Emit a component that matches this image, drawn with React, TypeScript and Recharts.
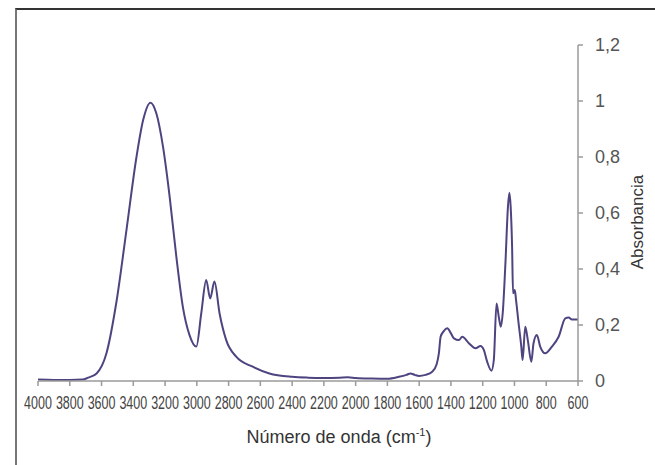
import React from 'react';
import { LineChart, Line, XAxis, YAxis, Label } from 'recharts';

// wavenumber (cm-1) and absorbance
const wavenumbers = [
  4000, 3900, 3800, 3720, 3684, 3631, 3569, 3506, 3443, 3380, 3338, 3292, 3255, 3213, 3171,
  3129, 3088, 3046, 3003, 2972, 2941, 2916, 2889, 2857, 2815, 2752, 2648, 2543, 2400, 2300,
  2200, 2100, 2050, 2000, 1900, 1800, 1727, 1680, 1655, 1628, 1601, 1560, 1518, 1490, 1476,
  1465, 1445, 1423, 1400, 1381, 1350, 1329, 1287, 1245, 1214, 1193, 1172, 1145, 1130, 1113,
  1099, 1086, 1074, 1057, 1041, 1032, 1024, 1015, 1009, 998, 990, 974, 957, 949, 932,
  916, 894, 880, 859, 838, 806, 764, 722, 680, 659, 638, 613, 600,
];

const absorbance = [
  0.005, 0.004, 0.004, 0.005, 0.012, 0.027, 0.099, 0.283, 0.539, 0.8, 0.932, 0.994, 0.956, 0.837, 0.658,
  0.444, 0.265, 0.164, 0.123, 0.242, 0.361, 0.295, 0.355, 0.242, 0.146, 0.087, 0.051, 0.027, 0.015, 0.012,
  0.011, 0.012, 0.013, 0.011, 0.009, 0.008, 0.015, 0.022, 0.027, 0.022, 0.018, 0.022, 0.033, 0.06, 0.099,
  0.158, 0.178, 0.188, 0.17, 0.152, 0.146, 0.158, 0.135, 0.117, 0.125, 0.111, 0.069, 0.037, 0.075, 0.277,
  0.23, 0.194, 0.242, 0.42, 0.623, 0.672, 0.623, 0.48, 0.313, 0.325, 0.289, 0.206, 0.123, 0.075, 0.194,
  0.146, 0.069, 0.135, 0.164, 0.123, 0.099, 0.123, 0.158, 0.224, 0.227, 0.22, 0.22, 0.22,
];

const xTicks = [4000, 3800, 3600, 3400, 3200, 3000, 2800, 2600, 2400, 2200, 2000, 1800, 1600, 1400, 1200, 1000, 800, 600];
const yTicks = [0, 0.2, 0.4, 0.6, 0.8, 1, 1.2];

const data = wavenumbers.map((wn, i) => ({ wn, abs: absorbance[i] }));

const FONT = '"Liberation Sans", Arial, sans-serif';

// tall, narrow tick labels like the original: small font stretched vertically
const XTick = (props: any) => {
  const { x, y, payload } = props;
  return (
    <g transform={`translate(${x},${y}) scale(1,1.45)`}>
      <text x={0} y={0} dy="0.71em" textAnchor="middle" fontSize={12.5} fontFamily={FONT} fill="#444">
        {payload.value}
      </text>
    </g>
  );
};

const XTitle = (props: any) => {
  const vb = props.viewBox;
  const cx = vb.x + vb.width / 2 + 31;
  return (
    <text x={cx} y={443} textAnchor="middle" fontSize={18} fontFamily={FONT} fill="#333">
      Número de onda (cm
      <tspan fontSize={11} dy={-7}>-1</tspan>
      <tspan dy={7}>)</tspan>
    </text>
  );
};

const YTitle = (props: any) => {
  const vb = props.viewBox;
  const cx = vb.x + 59;
  const cy = vb.y + vb.height / 2 + 9;
  return (
    <text
      x={cx}
      y={cy}
      textAnchor="middle"
      dominantBaseline="central"
      transform={`rotate(-90, ${cx}, ${cy})`}
      fontSize={17}
      fontFamily={FONT}
      fill="#333"
    >
      Absorbancia
    </text>
  );
};

const App: React.FC = () => {
  return (
    <div style={{ position: 'absolute', left: 0, top: 0, width: 655, height: 465, overflow: 'hidden', background: '#fff' }}>
      <div
        style={{
          position: 'absolute',
          left: 15,
          top: 8,
          width: 700,
          height: 500,
          borderTop: '2px solid #333',
          borderLeft: '2px solid #777',
        }}
      />
      <div style={{ position: 'absolute', left: 0, top: 0 }}>
        <LineChart width={655} height={465} data={data} margin={{ top: 45, right: 0, left: 38, bottom: 0 }}>
          <XAxis
            dataKey="wn"
            type="number"
            domain={[600, 4000]}
            reversed
            ticks={xTicks}
            interval={0}
            height={84}
            tickSize={5}
            tickMargin={10}
            tick={<XTick />}
            stroke="#9a9a9a"
            strokeWidth={1.5}
          >
            <Label content={<XTitle />} />
          </XAxis>
          <YAxis
            orientation="right"
            type="number"
            domain={[0, 1.2]}
            ticks={yTicks}
            width={77}
            tickSize={5}
            tickMargin={12}
            tickFormatter={(v: number) => String(v).replace('.', ',')}
            tick={{ fontSize: 18, fill: '#555', fontFamily: FONT }}
            stroke="#9a9a9a"
            strokeWidth={1.5}
          >
            <Label content={<YTitle />} />
          </YAxis>
          <Line
            type="monotone"
            dataKey="abs"
            stroke="#4f4480"
            strokeWidth={2}
            dot={false}
            isAnimationActive={false}
          />
        </LineChart>
      </div>
    </div>
  );
};

export default App;
